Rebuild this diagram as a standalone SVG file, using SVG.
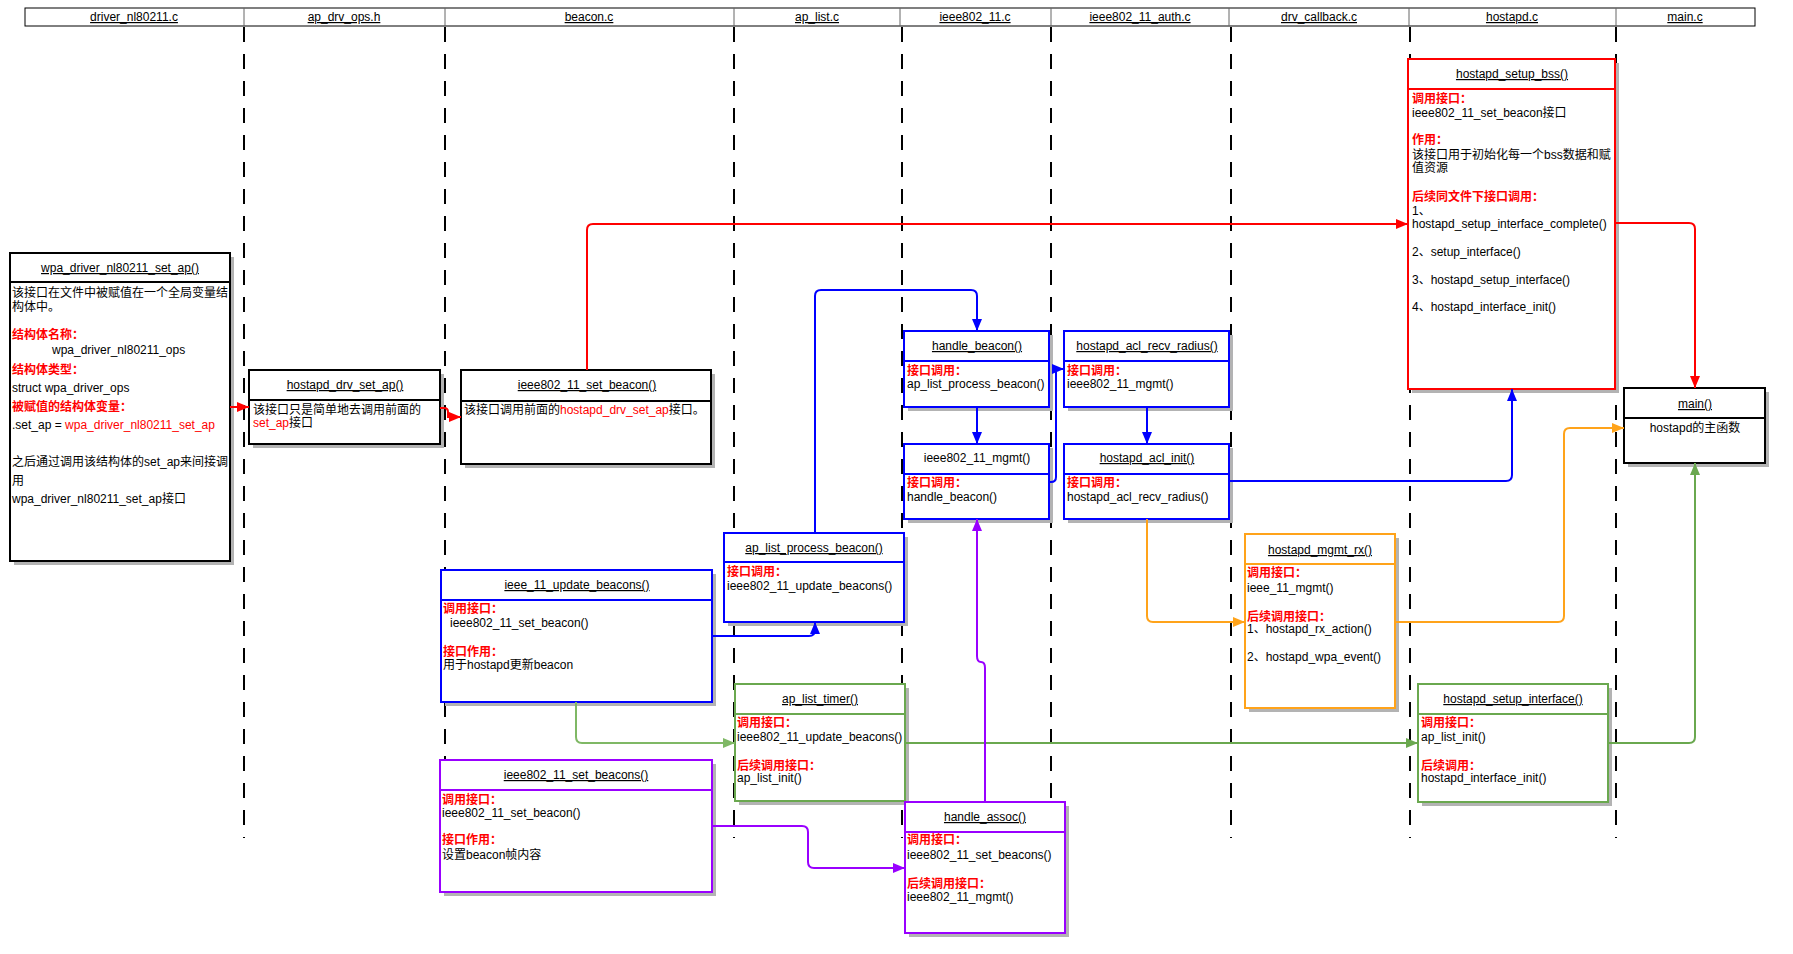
<svg xmlns="http://www.w3.org/2000/svg" width="1793" height="954" viewBox="0 0 1793 954">
<style>
.t{font-family:"Liberation Sans","Noto Sans CJK SC",sans-serif;font-size:12px;fill:#000}
.ttl{text-anchor:middle;text-decoration:underline}
.mid{text-anchor:middle}
.lbl{fill:#ff0000;font-weight:bold}
.red{fill:#ff0000}
.sh{fill:#b3b3b3}
.box{fill:#fff;stroke-width:2}
.k{stroke:#000}.r{stroke:#ff0000}.b{stroke:#0000ff}.g{stroke:#6aa84f}.o{stroke:#ffa31a}.p{stroke:#9900ff}
.life{stroke:#000;stroke-width:2;stroke-dasharray:15 12;fill:none}
.c{fill:none;stroke-width:2}
</style>
<defs>
<marker id="ar" viewBox="0 0 12 12" refX="12" refY="6" markerWidth="12" markerHeight="12" markerUnits="userSpaceOnUse" orient="auto"><path d="M0,1 L12,6 L0,11 z" fill="#ff0000"/></marker>
<marker id="ab" viewBox="0 0 12 12" refX="12" refY="6" markerWidth="12" markerHeight="12" markerUnits="userSpaceOnUse" orient="auto"><path d="M0,1 L12,6 L0,11 z" fill="#0000ff"/></marker>
<marker id="ag" viewBox="0 0 12 12" refX="12" refY="6" markerWidth="12" markerHeight="12" markerUnits="userSpaceOnUse" orient="auto"><path d="M0,1 L12,6 L0,11 z" fill="#6aa84f"/></marker>
<marker id="ag2" viewBox="0 0 12 12" refX="12" refY="6" markerWidth="12" markerHeight="12" markerUnits="userSpaceOnUse" orient="auto"><path d="M0,1 L12,6 L0,11 z" fill="#7fb865"/></marker>
<marker id="ao" viewBox="0 0 12 12" refX="12" refY="6" markerWidth="12" markerHeight="12" markerUnits="userSpaceOnUse" orient="auto"><path d="M0,1 L12,6 L0,11 z" fill="#ffa31a"/></marker>
<marker id="ap" viewBox="0 0 12 12" refX="12" refY="6" markerWidth="12" markerHeight="12" markerUnits="userSpaceOnUse" orient="auto"><path d="M0,1 L12,6 L0,11 z" fill="#9900ff"/></marker>
</defs>
<rect width="1793" height="954" fill="#fff"/>

<g id="header">
<rect x="25" y="8" width="1730" height="18" fill="#fff" stroke="#000" stroke-width="1"/>
<g stroke="#666" stroke-width="1">
<line x1="244" y1="8" x2="244" y2="26"/><line x1="445" y1="8" x2="445" y2="26"/><line x1="734" y1="8" x2="734" y2="26"/><line x1="900" y1="8" x2="900" y2="26"/><line x1="1051" y1="8" x2="1051" y2="26"/><line x1="1229" y1="8" x2="1229" y2="26"/><line x1="1409" y1="8" x2="1409" y2="26"/><line x1="1616" y1="8" x2="1616" y2="26"/>
</g>
<text class="t ttl" x="134" y="21">driver_nl80211.c</text>
<text class="t ttl" x="344" y="21">ap_drv_ops.h</text>
<text class="t ttl" x="589" y="21">beacon.c</text>
<text class="t ttl" x="817" y="21">ap_list.c</text>
<text class="t ttl" x="975" y="21">ieee802_11.c</text>
<text class="t ttl" x="1140" y="21">ieee802_11_auth.c</text>
<text class="t ttl" x="1319" y="21">drv_callback.c</text>
<text class="t ttl" x="1512" y="21">hostapd.c</text>
<text class="t ttl" x="1685" y="21">main.c</text>
</g>

<g id="lifelines">
<line class="life" x1="244" y1="27" x2="244" y2="838"/>
<line class="life" x1="445" y1="27" x2="445" y2="838"/>
<line class="life" x1="734" y1="27" x2="734" y2="838"/>
<line class="life" x1="902" y1="27" x2="902" y2="838"/>
<line class="life" x1="1051" y1="27" x2="1051" y2="838"/>
<line class="life" x1="1231" y1="27" x2="1231" y2="838"/>
<line class="life" x1="1410" y1="27" x2="1410" y2="838"/>
<line class="life" x1="1616" y1="27" x2="1616" y2="838"/>
</g>

<g id="n-wpa">
<rect class="sh" x="14" y="257" width="220" height="308"/>
<rect class="box k" x="10" y="253" width="220" height="308"/>
<line class="k" x1="10" y1="282" x2="230" y2="282" stroke-width="2"/>
<text class="t ttl" x="120" y="272">wpa_driver_nl80211_set_ap()</text>
<text class="t" x="12" y="297">该接口在文件中被赋值在一个全局变量结</text>
<text class="t" x="12" y="311">构体中。</text>
<text class="t lbl" x="12" y="339">结构体名称：</text>
<text class="t" x="52" y="354">wpa_driver_nl80211_ops</text>
<text class="t lbl" x="12" y="374">结构体类型：</text>
<text class="t" x="12" y="392">struct wpa_driver_ops</text>
<text class="t lbl" x="12" y="411">被赋值的结构体变量：</text>
<text class="t" x="12" y="429">.set_ap = <tspan class="red">wpa_driver_nl80211_set_ap</tspan></text>
<text class="t" x="12" y="466">之后通过调用该结构体的set_ap来间接调</text>
<text class="t" x="12" y="485">用</text>
<text class="t" x="12" y="503">wpa_driver_nl80211_set_ap接口</text>
</g>

<g id="n-hostapd_drv_set_ap">
<rect class="sh" x="253" y="374" width="191" height="74"/>
<rect class="box k" x="249" y="370" width="191" height="74"/>
<line class="k" x1="249" y1="400" x2="440" y2="400" stroke-width="2"/>
<text class="t ttl" x="345" y="389">hostapd_drv_set_ap()</text>
<text class="t" x="253" y="414">该接口只是简单地去调用前面的</text>
<text class="t" x="253" y="427"><tspan class="red">set_ap</tspan>接口</text>
</g>

<g id="n-ieee802_11_set_beacon">
<rect class="sh" x="465" y="374" width="250" height="94"/>
<rect class="box k" x="461" y="370" width="250" height="94"/>
<line class="k" x1="461" y1="401" x2="711" y2="401" stroke-width="2"/>
<text class="t ttl" x="587" y="389">ieee802_11_set_beacon()</text>
<text class="t" x="464" y="414">该接口调用前面的<tspan class="red">hostapd_drv_set_ap</tspan>接口。</text>
</g>

<g id="n-hostapd_setup_bss">
<rect class="sh" x="1412" y="63" width="207" height="330"/>
<rect class="box r" x="1408" y="59" width="207" height="330"/>
<line class="r" x1="1408" y1="89" x2="1615" y2="89" stroke-width="2"/>
<text class="t ttl" x="1512" y="78">hostapd_setup_bss()</text>
<text class="t lbl" x="1412" y="103">调用接口：</text>
<text class="t" x="1412" y="117">ieee802_11_set_beacon接口</text>
<text class="t lbl" x="1412" y="144">作用：</text>
<text class="t" x="1412" y="159">该接口用于初始化每一个bss数据和赋</text>
<text class="t" x="1412" y="172">值资源</text>
<text class="t lbl" x="1412" y="201">后续同文件下接口调用：</text>
<text class="t" x="1412" y="215">1、</text>
<text class="t" x="1412" y="228">hostapd_setup_interface_complete()</text>
<text class="t" x="1412" y="256">2、setup_interface()</text>
<text class="t" x="1412" y="284">3、hostapd_setup_interface()</text>
<text class="t" x="1412" y="311">4、hostapd_interface_init()</text>
</g>

<g id="n-main">
<rect class="sh" x="1628" y="392" width="141" height="75"/>
<rect class="box k" x="1624" y="388" width="141" height="75"/>
<line class="k" x1="1624" y1="418" x2="1765" y2="418" stroke-width="2"/>
<text class="t ttl" x="1695" y="408">main()</text>
<text class="t mid" x="1695" y="432">hostapd的主函数</text>
</g>

<g id="n-handle_beacon">
<rect class="sh" x="908" y="335" width="145" height="76"/>
<rect class="box b" x="904" y="331" width="145" height="76"/>
<line class="b" x1="904" y1="361" x2="1049" y2="361" stroke-width="2"/>
<text class="t ttl" x="977" y="350">handle_beacon()</text>
<text class="t lbl" x="907" y="375">接口调用：</text>
<text class="t" x="907" y="388">ap_list_process_beacon()</text>
</g>

<g id="n-ieee802_11_mgmt">
<rect class="sh" x="908" y="448" width="145" height="75"/>
<rect class="box b" x="904" y="444" width="145" height="75"/>
<line class="b" x1="904" y1="474" x2="1049" y2="474" stroke-width="2"/>
<text class="t mid" x="977" y="462">ieee802_11_mgmt()</text>
<text class="t lbl" x="907" y="487">接口调用：</text>
<text class="t" x="907" y="501">handle_beacon()</text>
</g>

<g id="n-hostapd_acl_recv_radius">
<rect class="sh" x="1068" y="335" width="165" height="76"/>
<rect class="box b" x="1064" y="331" width="165" height="76"/>
<line class="b" x1="1064" y1="361" x2="1229" y2="361" stroke-width="2"/>
<text class="t ttl" x="1147" y="350">hostapd_acl_recv_radius()</text>
<text class="t lbl" x="1067" y="375">接口调用：</text>
<text class="t" x="1067" y="388">ieee802_11_mgmt()</text>
</g>

<g id="n-hostapd_acl_init">
<rect class="sh" x="1068" y="448" width="165" height="75"/>
<rect class="box b" x="1064" y="444" width="165" height="75"/>
<line class="b" x1="1064" y1="474" x2="1229" y2="474" stroke-width="2"/>
<text class="t ttl" x="1147" y="462">hostapd_acl_init()</text>
<text class="t lbl" x="1067" y="487">接口调用：</text>
<text class="t" x="1067" y="501">hostapd_acl_recv_radius()</text>
</g>

<g id="n-ap_list_process_beacon">
<rect class="sh" x="728" y="537" width="180" height="89"/>
<rect class="box b" x="724" y="533" width="180" height="89"/>
<line class="b" x1="724" y1="562" x2="904" y2="562" stroke-width="2"/>
<text class="t ttl" x="814" y="552">ap_list_process_beacon()</text>
<text class="t lbl" x="727" y="576">接口调用：</text>
<text class="t" x="727" y="590">ieee802_11_update_beacons()</text>
</g>

<g id="n-ieee_11_update_beacons">
<rect class="sh" x="445" y="574" width="271" height="132"/>
<rect class="box b" x="441" y="570" width="271" height="132"/>
<line class="b" x1="441" y1="600" x2="712" y2="600" stroke-width="2"/>
<text class="t ttl" x="577" y="589">ieee_11_update_beacons()</text>
<text class="t lbl" x="443" y="613">调用接口：</text>
<text class="t" x="450" y="627">ieee802_11_set_beacon()</text>
<text class="t lbl" x="443" y="656">接口作用：</text>
<text class="t" x="443" y="669">用于hostapd更新beacon</text>
</g>

<g id="n-ap_list_timer">
<rect class="sh" x="739" y="688" width="170" height="117"/>
<rect class="box g" x="735" y="684" width="170" height="117"/>
<line class="g" x1="735" y1="714" x2="905" y2="714" stroke-width="2"/>
<text class="t ttl" x="820" y="703">ap_list_timer()</text>
<text class="t lbl" x="737" y="727">调用接口：</text>
<text class="t" x="737" y="741">ieee802_11_update_beacons()</text>
<text class="t lbl" x="737" y="770">后续调用接口：</text>
<text class="t" x="737" y="782">ap_list_init()</text>
</g>

<g id="n-hostapd_setup_interface">
<rect class="sh" x="1422" y="688" width="190" height="118"/>
<rect class="box g" x="1418" y="684" width="190" height="118"/>
<line class="g" x1="1418" y1="714" x2="1608" y2="714" stroke-width="2"/>
<text class="t ttl" x="1513" y="703">hostapd_setup_interface()</text>
<text class="t lbl" x="1421" y="727">调用接口：</text>
<text class="t" x="1421" y="741">ap_list_init()</text>
<text class="t lbl" x="1421" y="770">后续调用：</text>
<text class="t" x="1421" y="782">hostapd_interface_init()</text>
</g>

<g id="n-hostapd_mgmt_rx">
<rect class="sh" x="1249" y="538" width="150" height="174"/>
<rect class="box o" x="1245" y="534" width="150" height="174"/>
<line class="o" x1="1245" y1="564" x2="1395" y2="564" stroke-width="2"/>
<text class="t ttl" x="1320" y="554">hostapd_mgmt_rx()</text>
<text class="t lbl" x="1247" y="577">调用接口：</text>
<text class="t" x="1247" y="592">ieee_11_mgmt()</text>
<text class="t lbl" x="1247" y="621">后续调用接口：</text>
<text class="t" x="1247" y="633">1、hostapd_rx_action()</text>
<text class="t" x="1247" y="661">2、hostapd_wpa_event()</text>
</g>

<g id="n-ieee802_11_set_beacons">
<rect class="sh" x="444" y="764" width="272" height="132"/>
<rect class="box p" x="440" y="760" width="272" height="132"/>
<line class="p" x1="440" y1="790" x2="712" y2="790" stroke-width="2"/>
<text class="t ttl" x="576" y="779">ieee802_11_set_beacons()</text>
<text class="t lbl" x="442" y="804">调用接口：</text>
<text class="t" x="442" y="817">ieee802_11_set_beacon()</text>
<text class="t lbl" x="442" y="844">接口作用：</text>
<text class="t" x="442" y="859">设置beacon帧内容</text>
</g>

<g id="n-handle_assoc">
<rect class="sh" x="909" y="806" width="160" height="131"/>
<rect class="box p" x="905" y="802" width="160" height="131"/>
<line class="p" x1="905" y1="832" x2="1065" y2="832" stroke-width="2"/>
<text class="t ttl" x="985" y="821">handle_assoc()</text>
<text class="t lbl" x="907" y="844">调用接口：</text>
<text class="t" x="907" y="859">ieee802_11_set_beacons()</text>
<text class="t lbl" x="907" y="888">后续调用接口：</text>
<text class="t" x="907" y="901">ieee802_11_mgmt()</text>
</g>

<g id="connectors">
<path class="c r" d="M230,407 H249" marker-end="url(#ar)"/>
<path class="c r" d="M440,408 H444 Q448,408 448,412 V417 H461" marker-end="url(#ar)"/>
<path class="c r" d="M587,370 V230 Q587,224 593,224 H1408" marker-end="url(#ar)"/>
<path class="c r" d="M1615,223 H1689 Q1695,223 1695,229 V388" marker-end="url(#ar)"/>
<path class="c b" d="M977,407 V444" marker-end="url(#ab)"/>
<path class="c b" d="M1147,407 V444" marker-end="url(#ab)"/>
<path class="c b" d="M1049,482 H1051 Q1056,482 1056,477 V369 H1064" marker-end="url(#ab)"/>
<path class="c b" d="M815,533 V296 Q815,290 821,290 H971 Q977,290 977,296 V331" marker-end="url(#ab)"/>
<path class="c b" d="M712,636 H809 Q815,636 815,630 V622" marker-end="url(#ab)"/>
<path class="c b" d="M1229,481 H1506 Q1512,481 1512,475 V389" marker-end="url(#ab)"/>
<path class="c" stroke="#7fb865" d="M576,702 V737 Q576,743 582,743 H735" marker-end="url(#ag2)"/>
<path class="c g" d="M905,743 H1418" marker-end="url(#ag)"/>
<path class="c g" d="M1608,743 H1689 Q1695,743 1695,737 V463" marker-end="url(#ag)"/>
<path class="c o" d="M1147,519 V616 Q1147,622 1153,622 H1245" marker-end="url(#ao)"/>
<path class="c o" d="M1395,622 H1558 Q1564,622 1564,616 V434 Q1564,428 1570,428 H1624" marker-end="url(#ao)"/>
<path class="c p" d="M712,826 H802 Q808,826 808,832 V862 Q808,868 814,868 H905" marker-end="url(#ap)"/>
<path class="c p" d="M985,802 V668 Q985,662 981,662 Q977,662 977,656 V519" marker-end="url(#ap)"/>
</g>
</svg>
